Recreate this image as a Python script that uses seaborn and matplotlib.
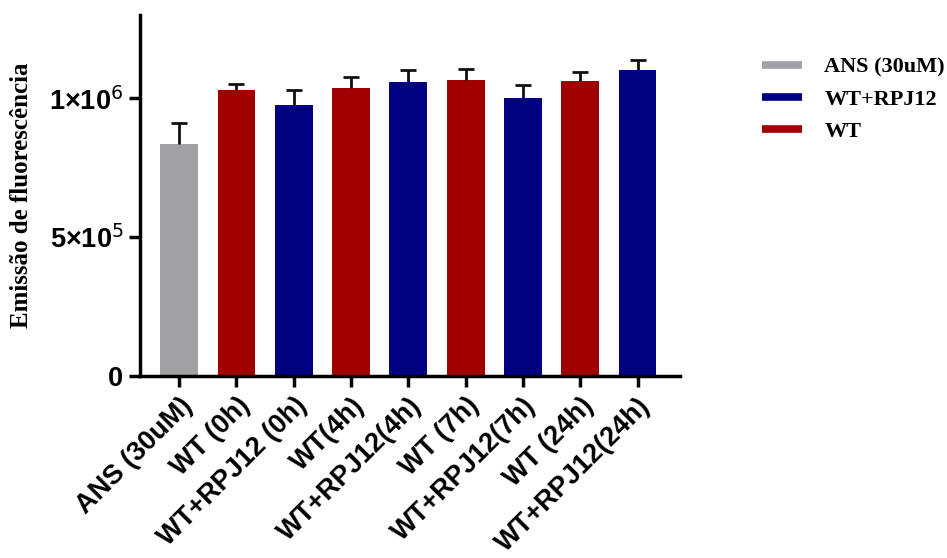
import numpy as np
import pandas as pd
import matplotlib
matplotlib.use('Agg')
import matplotlib.pyplot as plt
from matplotlib.lines import Line2D
import seaborn as sns

# data
labels = ['ANS (30uM)', 'WT (0h)', 'WT+RPJ12 (0h)', 'WT(4h)', 'WT+RPJ12(4h)',
          'WT (7h)', 'WT+RPJ12(7h)', 'WT (24h)', 'WT+RPJ12(24h)']
groups = ['ANS (30uM)', 'WT', 'WT+RPJ12', 'WT', 'WT+RPJ12',
          'WT', 'WT+RPJ12', 'WT', 'WT+RPJ12']
means = [837000, 1030000, 975000, 1037000, 1060000, 1065000, 1002000, 1063000, 1103000]
errors = [75000, 22000, 56000, 41000, 43000, 42000, 45000, 33000, 36000]

legend_order = ['ANS (30uM)', 'WT+RPJ12', 'WT']
colors = {'ANS (30uM)': '#A0A0A5', 'WT+RPJ12': '#000080', 'WT': '#A00000'}

df = pd.DataFrame({'label': labels, 'group': groups, 'mean': means, 'err': errors})

sns.set_style('ticks')
plt.rcParams['text.color'] = 'black'
plt.rcParams['axes.labelcolor'] = 'black'
plt.rcParams['xtick.color'] = 'black'
plt.rcParams['ytick.color'] = 'black'

fig = plt.figure(figsize=(9.47, 5.58), dpi=100)
ax = fig.add_axes([0.148, 0.326, 0.570, 0.647])

sns.barplot(data=df, x='label', y='mean', hue='group', palette=colors,
            dodge=False, width=0.66, order=labels, ax=ax, legend=False,
            saturation=1, edgecolor='none', linewidth=0)

x = np.arange(len(labels))
# upper error bars only
_, caps, _ = ax.errorbar(x, df['mean'], yerr=[np.zeros(len(x)), df['err']], fmt='none',
                         ecolor='#111111', elinewidth=2, capsize=6, capthick=2)
caps[0].set_visible(False)

ax.set_xlim(-0.68, 8.74)
ax.set_ylim(0, 1.3e6)
ax.set_yticks([0, 5e5, 1e6])
ax.set_yticklabels(['0', '5×10$^{5}$', '1×10$^{6}$'])
ax.set_xlabel('')
ax.set_ylabel('Emissão de fluorescência', fontfamily='Liberation Serif',
              fontweight='bold', fontsize=18, labelpad=12)

ax.set_xticks(x)
ax.set_xticklabels(labels, rotation=45, ha='right', rotation_mode='anchor')
for t in ax.get_xticklabels() + ax.get_yticklabels():
    t.set_fontfamily('Liberation Sans')
    t.set_fontweight('bold')
    t.set_fontsize(19.5)

sns.despine(ax=ax)
for s in ['left', 'bottom']:
    ax.spines[s].set_linewidth(2.5)
    ax.spines[s].set_color('black')
ax.tick_params(axis='both', length=8, width=2.5, color='black', pad=4)

handles = [Line2D([], [], color=colors[g], lw=5.5, solid_capstyle='butt', label=g)
           for g in legend_order]
leg = fig.legend(handles=handles, loc='upper left', bbox_to_anchor=(762 / 947, 1 - 57 / 558),
                 frameon=False, handlelength=1.8, labelspacing=0.52, handletextpad=1.0,
                 borderpad=0, borderaxespad=0,
                 prop={'family': 'Liberation Serif', 'weight': 'bold', 'size': 16})

fig.savefig('out.png', dpi=100)
